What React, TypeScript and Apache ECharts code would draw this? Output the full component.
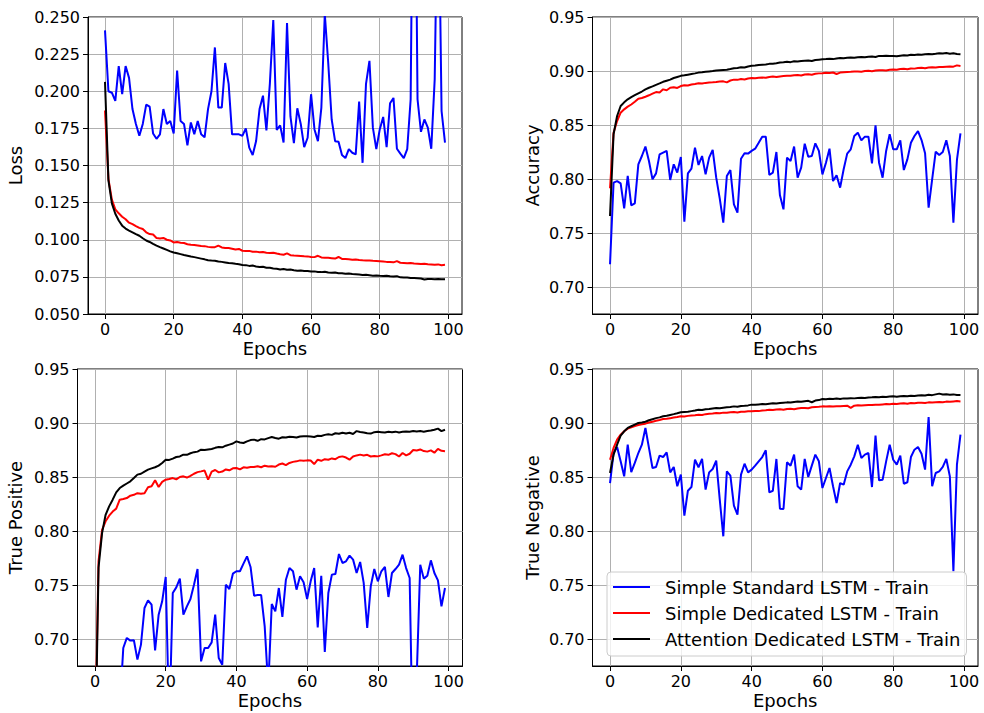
import React, { useEffect, useRef } from "react";
import * as echarts from "echarts";

const EPOCHS: number[] = Array.from({ length: 100 }, (_, i) => i);
const SERIES_NAMES = [
  "Simple Standard LSTM - Train",
  "Simple Dedicated LSTM - Train",
  "Attention Dedicated LSTM - Train",
];
const X_TICKS = [0, 20, 40, 60, 80, 100];
const LOSS_TICKS = [0.05, 0.075, 0.1, 0.125, 0.15, 0.175, 0.2, 0.225, 0.25];
const RATE_TICKS = [0.7, 0.75, 0.8, 0.85, 0.9, 0.95];

// ---------- Loss ----------
const lossStandard = [
  0.241, 0.2, 0.199, 0.1935, 0.217, 0.198, 0.217, 0.209, 0.188, 0.178,
  0.17, 0.178, 0.191, 0.1896, 0.1716, 0.168, 0.171, 0.188, 0.178, 0.18,
  0.1716, 0.214, 0.18, 0.178, 0.1635, 0.179, 0.171, 0.18, 0.171, 0.169,
  0.188, 0.2, 0.2295, 0.189, 0.189, 0.219, 0.205, 0.171, 0.171, 0.171,
  0.17, 0.175, 0.162, 0.157, 0.1665, 0.188, 0.197, 0.1737, 0.205, 0.248,
  0.174, 0.177, 0.1655, 0.246, 0.183, 0.165, 0.1885, 0.178, 0.1624, 0.1687,
  0.198, 0.1743, 0.1664, 0.189, 0.252, 0.219, 0.181, 0.1664, 0.166, 0.157,
  0.155, 0.161, 0.1586, 0.1575, 0.193, 0.1518, 0.205, 0.2205, 0.1755, 0.161,
  0.1743, 0.1827, 0.1624, 0.1919, 0.1955, 0.1613, 0.158, 0.155, 0.161, 0.1946,
  0.45, 0.1946, 0.1727, 0.181, 0.1755, 0.1613, 0.208, 0.36, 0.1867, 0.1654,
];
const lossDedicated = [
  0.187, 0.141, 0.127, 0.1205, 0.1178, 0.1155, 0.1138, 0.1115, 0.1105, 0.1092,
  0.108, 0.1072, 0.105, 0.1038, 0.1035, 0.1012, 0.1008, 0.1012, 0.1, 0.0995,
  0.0982, 0.0985, 0.098, 0.0978, 0.097, 0.0966, 0.0965, 0.0962, 0.0958, 0.0957,
  0.0952, 0.095, 0.095, 0.096, 0.0948, 0.0945, 0.0944, 0.094, 0.0935, 0.0938,
  0.0926, 0.0924, 0.0925, 0.0919, 0.092, 0.0916, 0.0917, 0.0912, 0.0911, 0.0913,
  0.0907, 0.0902, 0.0899, 0.0908, 0.0896, 0.0894, 0.0893, 0.0891, 0.0889, 0.0888,
  0.0884, 0.0883, 0.0892, 0.0881, 0.0879, 0.0878, 0.0876, 0.0873, 0.0884, 0.0871,
  0.087, 0.0868, 0.0866, 0.0867, 0.0864, 0.0862, 0.0861, 0.0861, 0.0858, 0.0857,
  0.0855, 0.0853, 0.0851, 0.085, 0.0848, 0.0856, 0.0845, 0.0844, 0.0841, 0.0843,
  0.084, 0.0839, 0.0836, 0.0838, 0.0835, 0.0834, 0.0832, 0.0834, 0.0828, 0.0831,
];
const lossAttention = [
  0.2063, 0.14, 0.1245, 0.1175, 0.113, 0.1095, 0.1075, 0.1062, 0.105, 0.1038,
  0.1027, 0.101, 0.0995, 0.0985, 0.0972, 0.096, 0.095, 0.0941, 0.0932, 0.0922,
  0.0914, 0.0909, 0.0903, 0.0897, 0.0892, 0.0887, 0.0883, 0.0878, 0.0873, 0.0868,
  0.0862, 0.086, 0.0859, 0.0853, 0.0851, 0.0847, 0.0843, 0.0842, 0.0838, 0.0835,
  0.083, 0.0829, 0.0824, 0.0826, 0.082, 0.0817, 0.0818, 0.0812, 0.0811, 0.0807,
  0.0804, 0.08, 0.0803, 0.0798, 0.0799, 0.0795, 0.0792, 0.0793, 0.0789, 0.079,
  0.0786, 0.0787, 0.0783, 0.0782, 0.0785, 0.0779, 0.0778, 0.078, 0.0775, 0.0774,
  0.0771, 0.0772, 0.0769, 0.0768, 0.0766, 0.0763, 0.0764, 0.0761, 0.0758, 0.076,
  0.0757, 0.0756, 0.0758, 0.0754, 0.0753, 0.0755, 0.0747, 0.0745, 0.0746, 0.0743,
  0.0742, 0.0741, 0.0739, 0.0732, 0.0736, 0.0735, 0.0734, 0.0735, 0.0734, 0.0734,
];

// ---------- Accuracy ----------
const accStandard = [
  0.721, 0.7966, 0.798, 0.796, 0.7728, 0.8028, 0.7756, 0.7775, 0.8136, 0.8213,
  0.83, 0.8167, 0.7997, 0.8052, 0.8228, 0.8244, 0.826, 0.7991, 0.8136, 0.8059,
  0.8204, 0.7605, 0.8052, 0.8096, 0.829, 0.813, 0.8213, 0.8043, 0.8198, 0.8269,
  0.8012, 0.7818, 0.7596, 0.8028, 0.8083, 0.7765, 0.7688, 0.8188, 0.8238, 0.8235,
  0.826, 0.8281, 0.8336, 0.8392, 0.8392, 0.8037, 0.8059, 0.825, 0.7849, 0.7719,
  0.8198, 0.8167, 0.83, 0.8012, 0.8105, 0.8327, 0.8207, 0.8213, 0.833, 0.826,
  0.8043, 0.8151, 0.8281, 0.7981, 0.8034, 0.792, 0.809, 0.8235, 0.8275, 0.8398,
  0.8429, 0.8358, 0.8392, 0.8392, 0.8145, 0.8497, 0.8151, 0.8012, 0.826, 0.8414,
  0.8275, 0.8275, 0.8358, 0.8083, 0.8182, 0.8336, 0.8398, 0.8444, 0.8361, 0.8238,
  0.7735, 0.7997, 0.8253, 0.8222, 0.825, 0.8358, 0.8213, 0.7596, 0.8176, 0.8423,
];
const accDedicated = [
  0.7914, 0.8429, 0.8537, 0.8614, 0.8645, 0.867, 0.869, 0.8715, 0.8744, 0.875,
  0.8762, 0.8775, 0.879, 0.8805, 0.88, 0.883, 0.8822, 0.8845, 0.885, 0.8843,
  0.8861, 0.8868, 0.8866, 0.8875, 0.888, 0.8886, 0.8884, 0.889, 0.8893, 0.8895,
  0.8898, 0.8902, 0.8904, 0.8895, 0.8912, 0.892, 0.8918, 0.8925, 0.8922, 0.893,
  0.8935, 0.8932, 0.8938, 0.894, 0.8937, 0.8945, 0.8948, 0.8944, 0.895, 0.8953,
  0.8956, 0.8955, 0.896, 0.8962, 0.8958, 0.8968, 0.897, 0.8966, 0.8975, 0.8978,
  0.898, 0.8983, 0.8982, 0.8986, 0.8972, 0.8985, 0.8988, 0.899, 0.8992, 0.8995,
  0.8996, 0.8994, 0.9, 0.9002, 0.8998, 0.9004, 0.9006, 0.9008, 0.9005, 0.9012,
  0.9014, 0.9012, 0.9018, 0.902, 0.9016, 0.9024, 0.9022, 0.9028, 0.903, 0.9026,
  0.9032, 0.9035, 0.9033, 0.9038, 0.9036, 0.904, 0.9042, 0.904, 0.9052, 0.9046,
];
const accAttention = [
  0.7657, 0.8414, 0.8583, 0.8676, 0.871, 0.8738, 0.8758, 0.8776, 0.8793, 0.881,
  0.883, 0.8845, 0.8858, 0.8872, 0.8885, 0.89, 0.891, 0.892, 0.8935, 0.8945,
  0.8955, 0.896, 0.8966, 0.8972, 0.8978, 0.8985, 0.8988, 0.8992, 0.8996, 0.9,
  0.9005, 0.9008, 0.901, 0.9012, 0.9018, 0.9025, 0.9028, 0.9034, 0.9032, 0.9042,
  0.9048, 0.905, 0.9056, 0.9058, 0.906, 0.9066, 0.9068, 0.9071, 0.9078, 0.908,
  0.9085, 0.9082, 0.909, 0.9088, 0.9092, 0.9095, 0.9098, 0.9092, 0.9102, 0.9105,
  0.9108, 0.911, 0.9113, 0.911, 0.9116, 0.912, 0.9118, 0.9122, 0.9125, 0.9122,
  0.9128, 0.913, 0.9128, 0.9132, 0.9135, 0.913, 0.914, 0.9138, 0.9142, 0.914,
  0.9138, 0.9136, 0.9142, 0.9145, 0.9143, 0.915, 0.9148, 0.9152, 0.915, 0.9155,
  0.9158, 0.9156, 0.916, 0.9165, 0.9162, 0.9166, 0.916, 0.9164, 0.9158, 0.9156,
];

// ---------- True Positive ----------
const tpStandard = [
  0.52, 0.6, 0.62, 0.58, 0.63, 0.61, 0.64, 0.635, 0.6917, 0.701,
  0.6985, 0.6988, 0.6809, 0.6948, 0.7287, 0.7358, 0.7318, 0.6895, 0.7225, 0.7349,
  0.7574, 0.62, 0.7426, 0.7478, 0.7559, 0.7225, 0.7302, 0.737, 0.7503, 0.7648,
  0.6793, 0.6917, 0.6917, 0.6969, 0.7225, 0.6824, 0.6762, 0.7503, 0.7463, 0.7605,
  0.7627, 0.7627, 0.7698, 0.7765, 0.7667, 0.7401, 0.7407, 0.7407, 0.7117, 0.655,
  0.7324, 0.7256, 0.7472, 0.7204, 0.7549, 0.7657, 0.7627, 0.7457, 0.758, 0.7525,
  0.737, 0.7534, 0.7657, 0.7108, 0.7586, 0.688, 0.7426, 0.7596, 0.7602, 0.7787,
  0.7704, 0.7719, 0.7772, 0.7735, 0.7611, 0.7713, 0.7519, 0.7102, 0.7488, 0.7648,
  0.7534, 0.7627, 0.7667, 0.7389, 0.7611, 0.7648, 0.7688, 0.7781, 0.7657, 0.7565,
  0.58, 0.665, 0.7688, 0.7559, 0.7586, 0.7728, 0.7611, 0.7543, 0.7302, 0.7472,
];
const tpDedicated = [
  0.6, 0.772, 0.801, 0.809, 0.8142, 0.818, 0.8207, 0.829, 0.8296, 0.8305,
  0.8327, 0.8335, 0.835, 0.8345, 0.835, 0.8405, 0.8414, 0.847, 0.8407, 0.8455,
  0.8475, 0.8481, 0.849, 0.8478, 0.85, 0.8506, 0.8495, 0.851, 0.853, 0.8545,
  0.8552, 0.856, 0.8475, 0.855, 0.8565, 0.8543, 0.855, 0.857, 0.8562, 0.858,
  0.8583, 0.857, 0.859, 0.8585, 0.8592, 0.8593, 0.86, 0.859, 0.8605, 0.8598,
  0.86, 0.8595, 0.8615, 0.8625, 0.861, 0.863, 0.864, 0.8645, 0.8654, 0.865,
  0.8654, 0.8652, 0.862, 0.866, 0.865, 0.8665, 0.866, 0.8672, 0.8665, 0.8685,
  0.8691, 0.868, 0.866, 0.869, 0.87, 0.8707, 0.87, 0.8705, 0.869, 0.8695,
  0.8691, 0.87, 0.871, 0.8705, 0.872, 0.8712, 0.869, 0.8722, 0.87, 0.8715,
  0.875, 0.8745, 0.8755, 0.874, 0.8735, 0.8747, 0.8725, 0.876, 0.8742, 0.8738,
];
const tpAttention = [
  0.58, 0.766, 0.798, 0.815, 0.8228, 0.829, 0.8358, 0.8398, 0.842, 0.844,
  0.846, 0.849, 0.8522, 0.853, 0.855, 0.8568, 0.858, 0.859, 0.8605, 0.863,
  0.866, 0.8658, 0.867, 0.8685, 0.869, 0.8707, 0.8705, 0.872, 0.873, 0.8735,
  0.8753, 0.875, 0.8755, 0.876, 0.877, 0.8778, 0.8775, 0.879, 0.88, 0.881,
  0.883, 0.882, 0.8815, 0.883, 0.8842, 0.8846, 0.8835, 0.885, 0.8848, 0.886,
  0.887, 0.8862, 0.8855, 0.8868, 0.8865, 0.8872, 0.887, 0.8865, 0.8875, 0.8878,
  0.8877, 0.8875, 0.887, 0.8882, 0.888, 0.889, 0.8895, 0.889, 0.8905, 0.89,
  0.891, 0.8902, 0.891, 0.8898, 0.8925, 0.8917, 0.8912, 0.8905, 0.8902, 0.8915,
  0.8918, 0.8915, 0.8912, 0.8918, 0.8915, 0.892, 0.8912, 0.8918, 0.8922, 0.892,
  0.8925, 0.8922, 0.8925, 0.892, 0.8925, 0.893, 0.8938, 0.8948, 0.8925, 0.8938,
];

// ---------- True Negative ----------
const tnStandard = [
  0.8444, 0.8722, 0.8778, 0.8645, 0.8506, 0.8799, 0.8546, 0.863, 0.8722, 0.8799,
  0.8954, 0.8769, 0.8583, 0.8593, 0.8698, 0.8685, 0.8728, 0.8543, 0.8593, 0.8414,
  0.8522, 0.8142, 0.8373, 0.8407, 0.866, 0.859, 0.8667, 0.8383, 0.8543, 0.8574,
  0.8651, 0.829, 0.7951, 0.8552, 0.8512, 0.8235, 0.8151, 0.8522, 0.8623, 0.8543,
  0.8568, 0.8605, 0.8645, 0.8685, 0.8747, 0.8358, 0.8373, 0.8667, 0.8207, 0.8204,
  0.8636, 0.8605, 0.8707, 0.8414, 0.8383, 0.8667, 0.85, 0.8605, 0.8707, 0.8645,
  0.8398, 0.8491, 0.8583, 0.8414, 0.8259, 0.8444, 0.8429, 0.8552, 0.8614, 0.8691,
  0.8799, 0.8676, 0.8707, 0.8722, 0.8407, 0.8883, 0.8469, 0.8475, 0.8645, 0.8799,
  0.866, 0.8614, 0.8698, 0.8438, 0.8451, 0.8685, 0.8753, 0.8778, 0.8716, 0.8568,
  0.9056, 0.8414, 0.8537, 0.8552, 0.8593, 0.8667, 0.8506, 0.7627, 0.8614, 0.8892,
];
const tnDedicated = [
  0.866, 0.8769, 0.8846, 0.8892, 0.8923, 0.8948, 0.896, 0.8972, 0.8981, 0.8988,
  0.8994, 0.9005, 0.9012, 0.902, 0.9028, 0.9037, 0.904, 0.9045, 0.905, 0.9055,
  0.9062, 0.906, 0.9066, 0.907, 0.9072, 0.9077, 0.9075, 0.9082, 0.9085, 0.9088,
  0.9093, 0.909, 0.9096, 0.9094, 0.91, 0.9102, 0.9098, 0.9105, 0.9104, 0.9108,
  0.9108, 0.9112, 0.911, 0.9115, 0.9118, 0.9123, 0.912, 0.9125, 0.9127, 0.9122,
  0.913, 0.9132, 0.9128, 0.9135, 0.9138, 0.914, 0.9137, 0.9145, 0.9148, 0.915,
  0.9154, 0.9152, 0.9155, 0.9153, 0.9156, 0.9154, 0.9157, 0.916, 0.914, 0.916,
  0.9164, 0.9162, 0.9165, 0.9167, 0.9166, 0.917, 0.9168, 0.9172, 0.9175, 0.9173,
  0.9179, 0.9177, 0.918, 0.9182, 0.9178, 0.9185, 0.9183, 0.9187, 0.9188, 0.9186,
  0.9191, 0.9189, 0.9193, 0.9195, 0.9192, 0.9198, 0.9196, 0.92, 0.9203, 0.92,
];
const tnAttention = [
  0.8537, 0.8707, 0.88, 0.8883, 0.8923, 0.8954, 0.897, 0.8985, 0.9, 0.9005,
  0.9012, 0.9025, 0.9035, 0.9045, 0.9052, 0.9062, 0.9068, 0.9075, 0.9082, 0.909,
  0.9099, 0.9102, 0.9105, 0.911, 0.9115, 0.9123, 0.912, 0.9128, 0.913, 0.9135,
  0.9139, 0.9137, 0.9142, 0.9145, 0.9148, 0.9154, 0.915, 0.9158, 0.916, 0.9163,
  0.917, 0.9168, 0.9172, 0.9175, 0.9173, 0.9179, 0.9182, 0.918, 0.9185, 0.9188,
  0.9191, 0.9189, 0.9195, 0.9198, 0.9196, 0.9202, 0.9205, 0.9192, 0.9208, 0.9212,
  0.9222, 0.922, 0.9224, 0.9222, 0.9226, 0.9222, 0.9228, 0.9226, 0.923, 0.9228,
  0.9231, 0.9234, 0.9232, 0.9236, 0.9238, 0.9241, 0.9239, 0.9243, 0.924, 0.9245,
  0.9247, 0.9244, 0.9248, 0.925, 0.9247, 0.9253, 0.925, 0.9255, 0.9257, 0.9254,
  0.9262, 0.9258, 0.9265, 0.9272, 0.9264, 0.9266, 0.9262, 0.9265, 0.926, 0.9259,
];

const FONT = "DejaVu Sans";
const COLORS = ["#0000ff", "#ff0000", "#000000"];

const PANELS = [
  { label: "Loss", ticks: LOSS_TICKS, min: 0.05, max: 0.25, dec: 3, nameGap: 64,
    grid: { left: 88, top: 17, width: 374, height: 297 },
    data: [lossStandard, lossDedicated, lossAttention] },
  { label: "Accuracy", ticks: RATE_TICKS, min: 0.675, max: 0.95, dec: 2, nameGap: 51,
    grid: { left: 592.5, top: 17, width: 385.5, height: 297 },
    data: [accStandard, accDedicated, accAttention] },
  { label: "True Positive", ticks: RATE_TICKS, min: 0.675, max: 0.95, dec: 2, nameGap: 53,
    grid: { left: 77.5, top: 369, width: 385, height: 297 },
    data: [tpStandard, tpDedicated, tpAttention] },
  { label: "True Negative", ticks: RATE_TICKS, min: 0.675, max: 0.95, dec: 2, nameGap: 51,
    grid: { left: 592.5, top: 369, width: 385.5, height: 297 },
    data: [tnStandard, tnDedicated, tnAttention] },
];

export default function App() {
  const ref = useRef<HTMLDivElement>(null);
  useEffect(() => {
    if (!ref.current) return;
    const chart = echarts.init(ref.current, undefined, { renderer: "svg" });
    const grids = PANELS.map((p) => ({
      ...p.grid,
      show: true,
      borderColor: "#000",
      borderWidth: 1,
      backgroundColor: "transparent",
      containLabel: false,
    }));
    const xAxes = PANELS.map((p, i) => ({
      gridIndex: i,
      type: "value",
      min: -4.95,
      max: 103.95,
      name: "Epochs",
      nameLocation: "middle",
      nameGap: 25,
      nameTextStyle: { fontSize: 18, fontFamily: FONT, color: "#000" },
      axisLine: { show: true, onZero: false, lineStyle: { color: "#000", width: 1 } },
      axisTick: { show: true, length: 5, lineStyle: { color: "#000", width: 1 }, customValues: X_TICKS },
      axisLabel: { customValues: X_TICKS, fontSize: 16, fontFamily: FONT, color: "#000", margin: 7 },
      splitLine: { show: true, lineStyle: { color: "#b0b0b0", width: 1 } },
    }));
    const yAxes = PANELS.map((p, i) => ({
      gridIndex: i,
      type: "value",
      min: p.min,
      max: p.max,
      name: p.label,
      nameLocation: "middle",
      nameGap: p.nameGap,
      nameTextStyle: { fontSize: 18, fontFamily: FONT, color: "#000" },
      axisLine: { show: true, onZero: false, lineStyle: { color: "#000", width: 1 } },
      axisTick: { show: true, length: 5, lineStyle: { color: "#000", width: 1 }, customValues: p.ticks },
      axisLabel: {
        customValues: p.ticks,
        fontSize: 16,
        fontFamily: FONT,
        color: "#000",
        margin: 8,
        formatter: (v: number) => v.toFixed(p.dec),
      },
      splitLine: { show: true, lineStyle: { color: "#b0b0b0", width: 1 } },
    }));
    const series: any[] = [];
    PANELS.forEach((p, i) => {
      p.data.forEach((vals, k) => {
        series.push({
          type: "line",
          name: SERIES_NAMES[k],
          xAxisIndex: i,
          yAxisIndex: i,
          data: EPOCHS.map((e, j) => [e, vals[j]]),
          showSymbol: false,
          symbol: "none",
          clip: true,
          lineStyle: { color: COLORS[k], width: 2 },
          itemStyle: { color: COLORS[k] },
          z: 2 + k,
        });
      });
    });
    chart.setOption({
      animation: false,
      backgroundColor: "#ffffff",
      grid: grids,
      xAxis: xAxes,
      yAxis: yAxes,
      legend: {
        data: SERIES_NAMES,
        orient: "vertical",
        left: 607,
        top: 572,
        icon: "rect",
        itemWidth: 37,
        itemHeight: 2,
        itemGap: 8,
        padding: [6, 6, 8, 6],
        backgroundColor: "rgba(255,255,255,0.8)",
        borderColor: "#cccccc",
        borderWidth: 1,
        borderRadius: 4,
        selectedMode: false,
        textStyle: { fontSize: 18, lineHeight: 18, fontFamily: FONT, color: "#000", padding: [0, 0, 0, 10] },
        z: 10,
      },
      series,
    });
    return () => chart.dispose();
  }, []);
  return (
    <div
      ref={ref}
      style={{ position: "fixed", left: 0, top: 0, width: 984, height: 713, background: "#fff" }}
    />
  );
}
